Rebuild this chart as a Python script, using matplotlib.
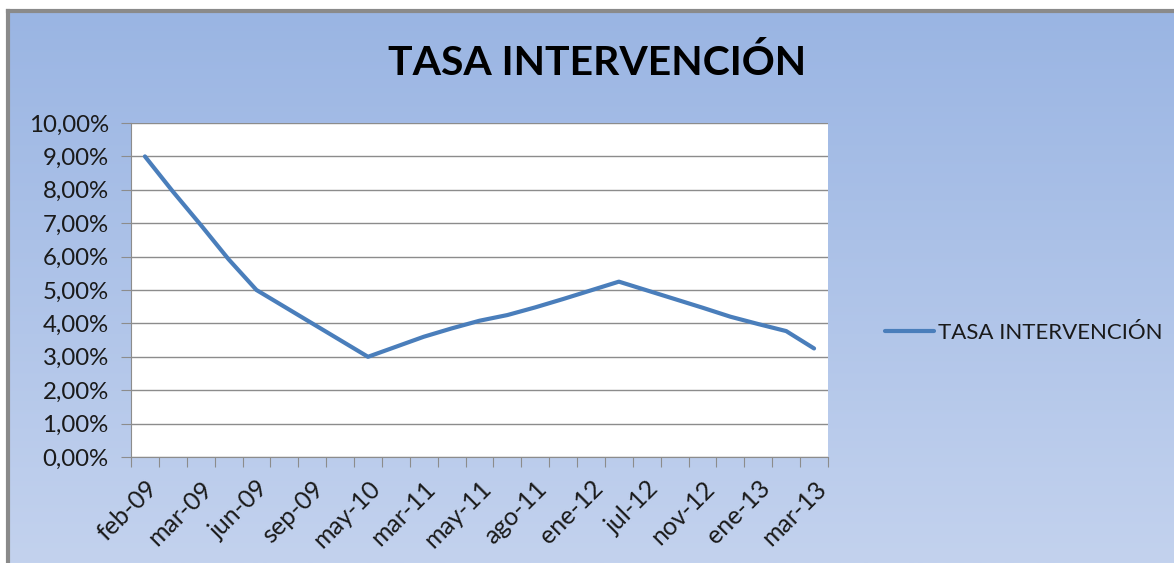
import numpy as np
import matplotlib
matplotlib.use('Agg')
import matplotlib.pyplot as plt
from matplotlib.ticker import FuncFormatter

# data: one value per month, labels on every other month
tasa = [9.00, 7.95, 6.95, 5.92, 5.00, 4.50, 4.00, 3.50, 3.00,
        3.30, 3.60, 3.85, 4.08, 4.25, 4.48, 4.73, 4.99, 5.25,
        4.99, 4.73, 4.47, 4.20, 3.98, 3.77, 3.25]
etiquetas = ['feb-09', 'mar-09', 'jun-09', 'sep-09', 'may-10', 'mar-11', 'may-11',
             'ago-11', 'ene-12', 'jul-12', 'nov-12', 'ene-13', 'mar-13']
serie = 'TASA INTERVENCIÓN'

plt.rcParams['font.family'] = ['Lato', 'DejaVu Sans']

W, H = 1174, 563
fig = plt.figure(figsize=(W / 100, H / 100), dpi=100)
fig.patch.set_facecolor('white')

# gradient chart background with grey frame (left + top)
bg = fig.add_axes([8 / W, 0, 1 - 8 / W, 1 - 11 / H])
grad = np.linspace(0, 1, 256).reshape(-1, 1)
c_top = np.array([0x9A, 0xB5, 0xE3]) / 255
c_bot = np.array([0xC3, 0xD2, 0xEE]) / 255
img = c_top[None, None, :] * (1 - grad[:, :, None]) + c_bot[None, None, :] * grad[:, :, None]
bg.imshow(img, aspect='auto', extent=[0, 1, 0, 1])
bg.set_xticks([])
bg.set_yticks([])
for s in ['right', 'bottom']:
    bg.spines[s].set_visible(False)
for s in ['left', 'top']:
    bg.spines[s].set_color('#8A8A8A')
    bg.spines[s].set_linewidth(3)

ax = fig.add_axes([131 / W, 1 - 457 / H, (828 - 131) / W, (457 - 123) / H])
ax.set_facecolor('white')
x = np.arange(len(tasa))
ax.plot(x, tasa, color='#4A7EBB', linewidth=3, solid_capstyle='round', label=serie)

ax.set_xlim(-0.5, len(tasa) - 0.5)
ax.set_ylim(0, 10)
ax.set_yticks(np.arange(0, 11, 1))
ax.yaxis.set_major_formatter(FuncFormatter(lambda v, p: ('%.2f%%' % v).replace('.', ',')))
ax.grid(axis='y', color='#8C8C8C', linewidth=1)
ax.set_axisbelow(True)

ax.set_xticks(np.arange(-0.5, len(tasa), 1), minor=False)
ax.set_xticklabels([])
ax.set_xticks(x[::2], minor=True)
ax.set_xticklabels(etiquetas, minor=True, rotation=45, ha='right', va='top',
                   rotation_mode='anchor', fontsize=18, color='#1A1A1A')
ax.tick_params(axis='x', which='minor', length=0, pad=14)
ax.tick_params(axis='x', which='major', length=7, color='#8C8C8C', direction='out')
ax.tick_params(axis='y', length=7, color='#8C8C8C', labelsize=17.3, labelcolor='#1A1A1A', pad=9)

for s in ['top', 'right']:
    ax.spines[s].set_visible(False)
for s in ['left', 'bottom']:
    ax.spines[s].set_color('#8C8C8C')

fig.text(597 / W, 1 - 63 / H, serie, ha='center', va='center',
         fontsize=29.4, fontweight='bold', color='black')

leg = fig.legend(loc='center left', bbox_to_anchor=(865 / W, 1 - 333 / H), frameon=False,
                 fontsize=16, handlelength=2.2, handletextpad=0.2)
for t in leg.get_texts():
    t.set_color('#1A1A1A')

fig.savefig('out.png', dpi=100, facecolor='white')
